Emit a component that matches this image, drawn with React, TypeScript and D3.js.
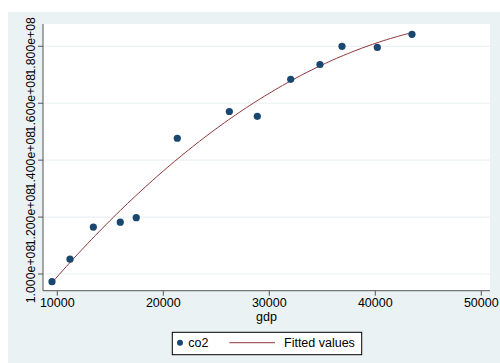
import React from "react";
import * as d3 from "d3";

const gdp = [9500, 11200, 13400, 15940, 17450, 21320, 26230, 28870, 32020, 34780, 36860, 40190, 43460];
const co2 = [97.3e6, 105.2e6, 116.5e6, 118.2e6, 119.8e6, 147.7e6, 157.1e6, 155.4e6, 168.4e6, 173.6e6, 180.0e6, 179.6e6, 184.2e6];
const xTicks = [10000, 20000, 30000, 40000, 50000];
const yTicks = [1.0e8, 1.2e8, 1.4e8, 1.6e8, 1.8e8];
const seriesNames = ["co2", "Fitted values"];

function quadFit(xs: number[], ys: number[]) {
  const mx = d3.mean(xs)!;
  const sx = d3.deviation(xs)!;
  const u = xs.map((x) => (x - mx) / sx);
  const S = [0, 0, 0, 0, 0];
  const T = [0, 0, 0];
  u.forEach((v, i) => {
    for (let k = 0; k < 5; k++) S[k] += Math.pow(v, k);
    for (let k = 0; k < 3; k++) T[k] += Math.pow(v, k) * ys[i];
  });
  const A = [
    [S[0], S[1], S[2], T[0]],
    [S[1], S[2], S[3], T[1]],
    [S[2], S[3], S[4], T[2]],
  ];
  for (let c = 0; c < 3; c++) {
    for (let r = c + 1; r < 3; r++) {
      const f = A[r][c] / A[c][c];
      for (let k = c; k < 4; k++) A[r][k] -= f * A[c][k];
    }
  }
  const b = [0, 0, 0];
  for (let r = 2; r >= 0; r--) {
    let s = A[r][3];
    for (let k = r + 1; k < 3; k++) s -= A[r][k] * b[k];
    b[r] = s / A[r][r];
  }
  return (x: number) => {
    const v = (x - mx) / sx;
    return b[0] + b[1] * v + b[2] * v * v;
  };
}

export default function App() {
  const W = 500, H = 363;
  const x = d3.scaleLinear().domain([10000, 50000]).range([57.3, 481.3]);
  const y = d3.scaleLinear().domain([1.0e8, 1.8e8]).range([274, 46.3]);
  const fit = quadFit(gdp, co2);
  const [x0, x1] = d3.extent(gdp) as [number, number];
  const curvePts = d3.range(0, 101).map((i) => {
    const xv = x0 + ((x1 - x0) * i) / 100;
    return [xv, fit(xv)] as [number, number];
  });
  const line = d3.line<[number, number]>().x((d) => x(d[0])).y((d) => y(d[1]));
  const fmt = (v: number) => v.toExponential(3).replace("e+", "e+0");
  const font = "Liberation Sans, Arial, sans-serif";
  const navy = "#1a476f";
  const maroon = "#90353b";
  const plotL = 43, plotR = 490, plotT = 24, plotB = 290.7;

  return (
    <svg width={W} height={H} style={{ position: "absolute", left: 0, top: 0 }} fontFamily={font}>
      <rect x={0} y={0} width={W} height={H} fill="#ffffff" />
      <rect x={8} y={12} width={W - 8} height={H - 12} fill="#eaf2f3" />
      <rect x={plotL} y={plotT} width={plotR - plotL} height={plotB - plotT} fill="#ffffff" />
      {yTicks.map((t) => (
        <line key={"g" + t} x1={plotL} x2={plotR} y1={y(t)} y2={y(t)} stroke="#eaf2f3" strokeWidth={1.2} />
      ))}
      <path d={line(curvePts)!} fill="none" stroke={maroon} strokeWidth={1} />
      {gdp.map((g, i) => (
        <circle key={i} cx={x(g)} cy={y(co2[i])} r={3.6} fill={navy} />
      ))}
      <line x1={plotL} x2={plotL} y1={plotT} y2={plotB} stroke="#555" strokeWidth={1} />
      <line x1={plotL} x2={plotR} y1={plotB} y2={plotB} stroke="#555" strokeWidth={1} />
      {yTicks.map((t) => (
        <g key={"y" + t}>
          <line x1={plotL - 5} x2={plotL} y1={y(t)} y2={y(t)} stroke="#555" strokeWidth={1} />
          <text
            transform={`translate(${35},${y(t)}) rotate(-90)`}
            textAnchor="middle"
            fontSize={12.3}
            fill="#000"
          >
            {fmt(t)}
          </text>
        </g>
      ))}
      {xTicks.map((t) => (
        <g key={"x" + t}>
          <line x1={x(t)} x2={x(t)} y1={plotB} y2={plotB + 5} stroke="#555" strokeWidth={1} />
          <text x={x(t)} y={307} textAnchor="middle" fontSize={12.5} fill="#000">
            {d3.format("d")(t)}
          </text>
        </g>
      ))}
      <text x={(plotL + plotR) / 2} y={320.5} textAnchor="middle" fontSize={12.5} fill="#000">gdp</text>
      <rect x={172.3} y={332.3} width={189.4} height={22.4} fill="#ffffff" stroke="#000" strokeWidth={1} />
      <circle cx={180} cy={342.7} r={3} fill={navy} />
      <text x={188.3} y={347.3} fontSize={12.5} fill="#000">{seriesNames[0]}</text>
      <line x1={229.3} x2={275} y1={342.7} y2={342.7} stroke={maroon} strokeWidth={1} />
      <text x={284} y={347.3} fontSize={12.5} fill="#000">{seriesNames[1]}</text>
    </svg>
  );
}
